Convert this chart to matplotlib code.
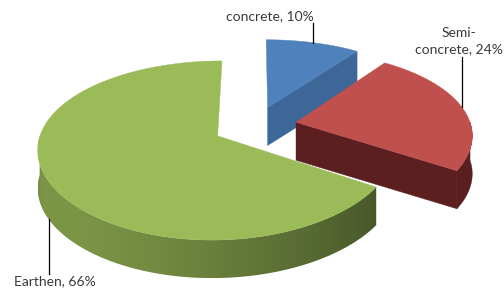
import numpy as np
import matplotlib.pyplot as plt
from matplotlib.colors import to_rgb
from matplotlib.patches import Polygon

# data
labels = ['concrete', 'Semi-\nconcrete', 'Earthen']
shares = [10, 24, 66]
top_colors = ['#4f81bd', '#c0504d', '#9bbb59']
cut_colors = ['#3d6699', '#5c1f1f', '#6f8c38']
side_colors = ['#3d6699', '#5a1e1e', None]   # None -> shaded gradient

# view settings (pixel space of the figure)
W, H = 504, 298
CX, CY = 255, 126
RX, RY = 175, 84
PX, PY = 0.13, 0.16
THICK = 38
EXPLODE = 0.24


def project(x, y, z=0.0):
    sx = CX + RX * x / (1 + PX * y)
    sy = CY - RY * y / (1 + PY * y) + THICK * z
    return sx, sy


def side_factor(t):
    return 0.4 + 0.4 * ((1 + np.cos(t - np.radians(215))) / 2) ** 1.5


fig = plt.figure(figsize=(W / 100, H / 100), dpi=100)
ax = fig.add_axes([0, 0, 1, 1])

# slice angles: start at 12 o'clock, going clockwise
cum = np.concatenate([[0], np.cumsum(shares)]) / sum(shares) * 360
slices = []
for i in range(len(shares)):
    a_lo = 90 - cum[i + 1]
    a_hi = 90 - cum[i]
    mid = np.radians((a_lo + a_hi) / 2)
    ox, oy = EXPLODE * np.cos(mid), EXPLODE * np.sin(mid)
    slices.append((a_lo, a_hi, mid, ox, oy))

zo = 1
# draw from back to front
order = sorted(range(len(shares)), key=lambda i: -slices[i][4])
for i in order:
    a_lo, a_hi, mid, ox, oy = slices[i]
    th = np.radians(np.linspace(a_lo, a_hi, 300))
    px, py = ox + np.cos(th), oy + np.sin(th)

    # radial cut faces facing the viewer
    for a, sgn in ((a_lo, -1), (a_hi, 1)):
        na = np.radians(a + sgn * 90)
        if np.sin(na) < -1e-6:
            ex, ey = ox + np.cos(np.radians(a)), oy + np.sin(np.radians(a))
            pts = [project(ox, oy, 0), project(ex, ey, 0),
                   project(ex, ey, 1), project(ox, oy, 1)]
            ax.add_patch(Polygon(pts, closed=True, fc=cut_colors[i],
                                 ec=cut_colors[i], lw=0.3, zorder=zo))
            zo += 1

    # outer curved side (front half only)
    vis = np.sin(th) < 0
    if vis.any():
        tv, xv, yv = th[vis], px[vis], py[vis]
        top_edge = [project(x, y, 0) for x, y in zip(xv, yv)]
        bot_edge = [project(x, y, 1) for x, y in zip(xv, yv)]
        pts = top_edge + bot_edge[::-1]
        if side_colors[i] is not None:
            ax.add_patch(Polygon(pts, closed=True, fc=side_colors[i],
                                 ec=side_colors[i], lw=0.3, zorder=zo))
        else:
            poly = Polygon(pts, closed=True, fc='none', ec='none')
            ax.add_patch(poly)
            sx = np.array([p[0] for p in top_edge])
            srt = np.argsort(sx)
            cols = np.linspace(sx.min(), sx.max(), 400)
            f = np.interp(cols, sx[srt], side_factor(tv)[srt])
            img = np.array(to_rgb(top_colors[i]))[None, None, :] * f[None, :, None]
            ys = [p[1] for p in pts]
            im = ax.imshow(np.clip(img, 0, 1), extent=[sx.min(), sx.max(), max(ys), min(ys)],
                           aspect='auto', interpolation='bilinear', zorder=zo)
            im.set_clip_path(poly)
        zo += 1

    # top face
    pts = [project(ox, oy, 0)] + [project(x, y, 0) for x, y in zip(px, py)]
    ax.add_patch(Polygon(pts, closed=True, fc=top_colors[i],
                         ec=top_colors[i], lw=0.3, zorder=zo))
    zo += 1

# labels with leader lines
font = dict(family=['Lato', 'DejaVu Sans'], fontsize=10, color='#3a3a3a')
for i in range(len(shares)):
    a_lo, a_hi, mid, ox, oy = slices[i]
    mx, my = ox + np.cos(mid), oy + np.sin(mid)
    text = f'{labels[i]}, {shares[i]}%'
    if np.sin(mid) > 0:
        x0, y0 = project(mx, my, 0)
        y1 = y0 - (20 if i == 0 else 50)
        ax.plot([x0, x0], [y0, y1], color='black', lw=0.9, zorder=zo)
        if i == 0:
            ax.text(x0 + 1, y1 - 1, text, ha='right', va='bottom', **font)
        else:
            ax.text(x0 - 3, y1 - 2, text, ha='center', va='bottom',
                    linespacing=1.45, **font)
    else:
        x0, y0 = project(mx, my, 1)
        y1 = y0 + 55
        ax.plot([x0, x0], [y0, y1], color='black', lw=0.9, zorder=zo)
        ax.text(x0 + 6, y1 + 1, text, ha='center', va='top', **font)

ax.set_xlim(0, W)
ax.set_ylim(H, 0)
ax.axis('off')
fig.savefig('out.png', dpi=100)
